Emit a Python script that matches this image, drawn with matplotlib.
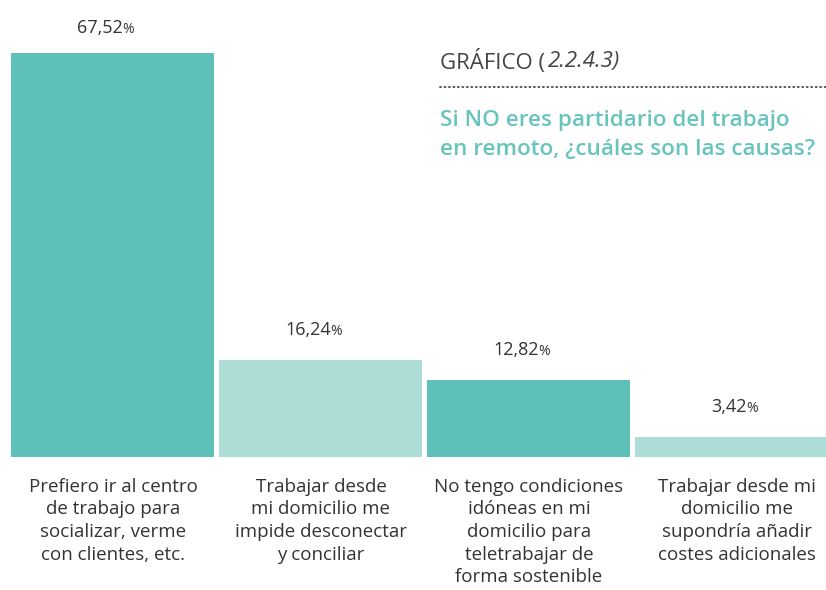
import matplotlib.pyplot as plt

plt.rcParams['font.family'] = ['Open Sans', 'DejaVu Sans']

categories = [
    "Prefiero ir al centro\nde trabajo para\nsocializar, verme\ncon clientes, etc.",
    "Trabajar desde\nmi domicilio me\nimpide desconectar\ny conciliar",
    "No tengo condiciones\nidóneas en mi\ndomicilio para\nteletrabajar de\nforma sostenible",
    "Trabajar desde mi\ndomicilio me\nsupondría añadir\ncostes adicionales",
]
values = [67.52, 16.24, 12.82, 3.42]
value_labels = ["67,52", "16,24", "12,82", "3,42"]
colors = ["#5fbfb9", "#aedcd7", "#5fbfb9", "#aedcd7"]

fig = plt.figure(figsize=(8.26, 5.90), dpi=100)
ax = fig.add_axes([0, 133 / 590, 1, 457 / 590])
x = list(range(len(values)))
ax.bar(x, values, width=0.976, color=colors)
ax.set_xlim(-0.543, 3.428)
ax.set_ylim(0, 76.4)
ax.axis("off")

for xi, v, lab in zip(x, values, value_labels):
    ty = min(v + 5.0, 71.7)
    ax.annotate(lab, (xi, ty), xytext=(7, 0), textcoords="offset points",
                ha="right", va="center", fontsize=13, color="#333333")
    ax.annotate("%", (xi, ty), xytext=(7, -1), textcoords="offset points",
                ha="left", va="center", fontsize=10, color="#333333")
    ax.annotate(categories[xi], (xi, 0), xytext=(0, -15), textcoords="offset points",
                ha="center", va="top", fontsize=13.5, color="#333333",
                linespacing=1.33)

t1 = fig.text(440 / 826, 1 - 62 / 590, "GRÁFICO (", fontsize=16, color="#444444",
              va="center", ha="left")
fig.add_artist(plt.Annotation("2.2.4.3)", xy=(1, 0.5), xycoords=t1, xytext=(2, 0),
                              textcoords="offset points", va="center",
                              ha="left", fontsize=16, color="#444444",
                              style="italic"))
fig.add_artist(plt.Line2D([440 / 826, 1], [1 - 87 / 590] * 2, color="#555555",
                          lw=1.4, ls=(0, (0.5, 1.8)), dash_capstyle="round",
                          transform=fig.transFigure))
fig.text(440 / 826, 1 - 135 / 590, "Si NO eres partidario del trabajo\nen remoto, ¿cuáles son las causas?",
         fontsize=16.2, color="#68c4bd", fontweight="semibold", va="center",
         ha="left", linespacing=1.5)

fig.savefig("out.png", dpi=100)
